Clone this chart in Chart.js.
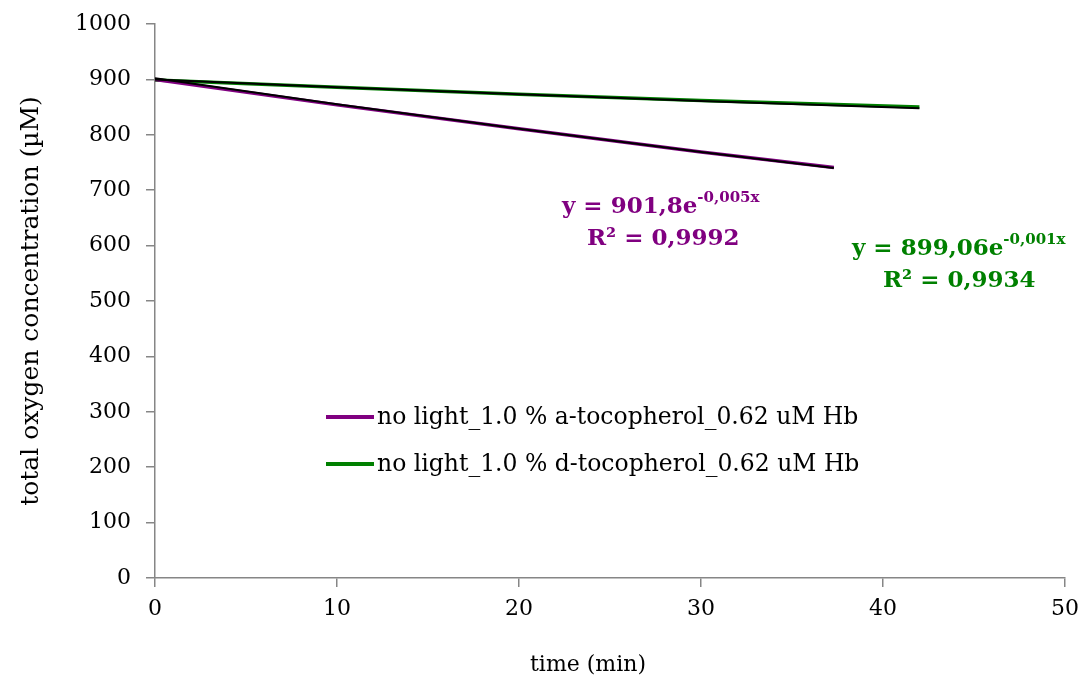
<!DOCTYPE html>
<html>
<head>
<meta charset="utf-8">
<script src="https://cdn.jsdelivr.net/npm/chart.js@4.4.1/dist/chart.umd.min.js"></script>
<style>
    html, body { margin: 0; padding: 0; background: #fff; }
    #wrap { width: 1082px; height: 684px; }
</style>
</head>
<body>
<div id="wrap"><canvas id="chart"></canvas></div>
<script>
const timeA = [0, 10, 20, 30, 37.3];
const oxygenA = [900, 854, 811, 769, 741];
const trendA = [902, 855, 811, 769, 740];

const timeD = [0, 10, 20, 30, 42];
const oxygenD = [899, 886, 873, 862, 850];
const trendD = [900, 886, 873, 861, 848];

const labelA = 'no light_1.0 % a-tocopherol_0.62 uM Hb';
const labelD = 'no light_1.0 % d-tocopherol_0.62 uM Hb';

const xTicks = [0, 10, 20, 30, 40, 50];
const yTicks = [0, 100, 200, 300, 400, 500, 600, 700, 800, 900, 1000];

const PURPLE = '#800080';
const GREEN = '#008000';
const AXIS = '#868686';
const FONT = 'DejaVu Serif';

const toPoints = (xs, ys) => xs.map((x, i) => ({ x: x, y: ys[i] }));

// legend inside the plot + trendline equations
const overlay = {
    id: 'overlay',
    afterDraw(chart) {
        const ctx = chart.ctx;
        ctx.save();

        // legend
        const items = [
            { label: labelA, color: PURPLE, y: 417 },
            { label: labelD, color: GREEN, y: 464 }
        ];
        items.forEach(it => {
            ctx.strokeStyle = it.color;
            ctx.lineWidth = 4;
            ctx.beginPath();
            ctx.moveTo(326, it.y);
            ctx.lineTo(374, it.y);
            ctx.stroke();
            ctx.fillStyle = '#000';
            ctx.font = '23.5px "' + FONT + '"';
            ctx.textBaseline = 'middle';
            ctx.textAlign = 'left';
            ctx.fillText(it.label, 377, it.y + 1);
        });

        // equations
        const eq = (x, y, main, sup, r2x, r2, color) => {
            ctx.fillStyle = color;
            ctx.textBaseline = 'alphabetic';
            ctx.font = 'bold 23px "' + FONT + '"';
            ctx.fillText(main, x, y);
            const w = ctx.measureText(main).width;
            ctx.font = 'bold 15px "' + FONT + '"';
            ctx.fillText(sup, x + w, y - 11);
            ctx.font = 'bold 23px "' + FONT + '"';
            ctx.fillText(r2, r2x, y + 32);
        };
        eq(562, 213, 'y = 901,8e', '-0,005x', 587, 'R² = 0,9992', PURPLE);
        eq(852, 255, 'y = 899,06e', '-0,001x', 883, 'R² = 0,9934', GREEN);

        ctx.restore();
    }
};

new Chart(document.getElementById('chart'), {
    type: 'scatter',
    data: {
        datasets: [
            {
                label: 'trend a',
                data: toPoints(timeA, trendA),
                showLine: true,
                borderColor: '#000',
                borderWidth: 2,
                pointRadius: 0,
                order: 0
            },
            {
                label: 'trend d',
                data: toPoints(timeD, trendD),
                showLine: true,
                borderColor: '#000',
                borderWidth: 2,
                pointRadius: 0,
                order: 0
            },
            {
                label: labelA,
                data: toPoints(timeA, oxygenA),
                showLine: true,
                borderColor: PURPLE,
                borderWidth: 3.5,
                pointRadius: 0,
                order: 1
            },
            {
                label: labelD,
                data: toPoints(timeD, oxygenD),
                showLine: true,
                borderColor: GREEN,
                borderWidth: 3.5,
                pointRadius: 0,
                order: 1
            }
        ]
    },
    options: {
        responsive: true,
        maintainAspectRatio: false,
        animation: false,
        layout: {
            padding: { left: 16, right: 17, top: 24, bottom: 6 }
        },
        plugins: {
            legend: { display: false },
            tooltip: { enabled: false }
        },
        scales: {
            x: {
                type: 'linear',
                min: 0,
                max: 50,
                afterBuildTicks: (s) => { s.ticks = xTicks.map(v => ({ value: v })); },
                afterFit: (s) => { s.height = 100; s.paddingRight = 0; s.paddingLeft = 0; },
                border: { display: true, color: AXIS, width: 1.5 },
                grid: { display: true, drawOnChartArea: false, drawTicks: true, tickLength: 9, color: AXIS, lineWidth: 1.5 },
                ticks: {
                    color: '#000',
                    padding: 9,
                    maxRotation: 0,
                    callback: (v) => String(v),
                    font: { family: FONT, size: 22 }
                },
                title: {
                    display: true,
                    // trailing en spaces nudge the centred title left, as in the original
                    text: 'time (min)' + '\u2002'.repeat(4),
                    color: '#000',
                    font: { family: FONT, size: 22 },
                    padding: { top: 22, bottom: 0 }
                }
            },
            y: {
                type: 'linear',
                min: 0,
                max: 1000,
                afterBuildTicks: (s) => { s.ticks = yTicks.map(v => ({ value: v })); },
                afterFit: (s) => { s.width = 139; s.paddingTop = 0; s.paddingBottom = 0; },
                border: { display: true, color: AXIS, width: 1.5 },
                grid: { display: true, drawOnChartArea: false, drawTicks: true, tickLength: 9, color: AXIS, lineWidth: 1.5 },
                ticks: {
                    color: '#000',
                    padding: 15,
                    callback: (v) => String(v),
                    font: { family: FONT, size: 22 }
                },
                title: {
                    display: true,
                    text: 'total oxygen concentration (µM)',
                    color: '#000',
                    font: { family: FONT, size: 25 },
                    padding: { top: 0, bottom: 0 }
                }
            }
        }
    },
    plugins: [overlay]
});
</script>
</body>
</html>
